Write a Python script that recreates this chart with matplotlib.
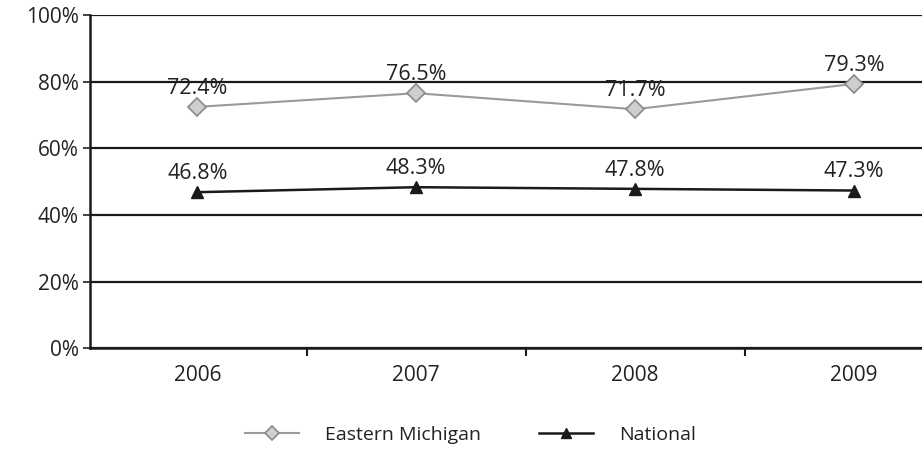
import matplotlib
matplotlib.use("Agg")
import matplotlib.pyplot as plt
from matplotlib.ticker import FixedLocator, FuncFormatter

years = ["2006", "2007", "2008", "2009"]
emu = [72.4, 76.5, 71.7, 79.3]
national = [46.8, 48.3, 47.8, 47.3]
yticks = [0, 20, 40, 60, 80, 100]

plt.rcParams['font.family'] = ['Open Sans', 'DejaVu Sans']

fig = plt.figure(figsize=(9.22, 4.51), dpi=100)
ax = fig.add_axes([0.0976, 0.228, 0.9024, 0.739])

x = list(range(len(years)))
ax.plot(x, emu, color="#9a9a9a", lw=1.5, marker="D", markersize=9,
        markerfacecolor="#cfcfcf", markeredgecolor="#8a8a8a", markeredgewidth=1.2,
        label="Eastern Michigan", zorder=3)
ax.plot(x, national, color="#1a1a1a", lw=1.8, marker="^", markersize=9,
        markerfacecolor="#1a1a1a", markeredgecolor="#1a1a1a", label="National", zorder=3)

for xi, v in zip(x, emu):
    ax.annotate(f"{v:.1f}%", (xi, v), xytext=(0, 6), textcoords="offset points",
                ha="center", va="bottom", fontsize=15.5, color="#222222")
for xi, v in zip(x, national):
    ax.annotate(f"{v:.1f}%", (xi, v), xytext=(0, 6), textcoords="offset points",
                ha="center", va="bottom", fontsize=15.5, color="#222222")

ax.set_ylim(0, 100)
ax.set_xlim(-0.49, 3.31)
ax.set_yticks(yticks)
ax.yaxis.set_major_formatter(FuncFormatter(lambda v, p: f"{int(v)}%"))
ax.grid(axis="y", color="#1a1a1a", lw=1.6)
ax.set_axisbelow(True)

ax.set_xticks(x)
ax.set_xticklabels(years)
ax.xaxis.set_minor_locator(FixedLocator([0.5, 1.5, 2.5]))
ax.tick_params(axis="x", which="major", length=0, pad=12, labelsize=15, colors="#222222")
ax.tick_params(axis="x", which="minor", length=6, width=1.5, direction="out", color="#1a1a1a")
ax.tick_params(axis="y", length=5, width=1.2, direction="out", labelsize=15, colors="#222222", pad=3)

for s in ["top", "right"]:
    ax.spines[s].set_visible(False)
for s in ["left", "bottom"]:
    ax.spines[s].set_color("#1a1a1a")
    ax.spines[s].set_linewidth(1.8)

leg = fig.legend(loc="center", bbox_to_anchor=(0.51, 0.035), ncol=2, frameon=False,
                 fontsize=14, handlelength=2.8, columnspacing=3.0, handletextpad=1.3,
                 markerscale=0.8)
for t in leg.get_texts():
    t.set_color("#222222")

fig.savefig("out.png", dpi=100)
